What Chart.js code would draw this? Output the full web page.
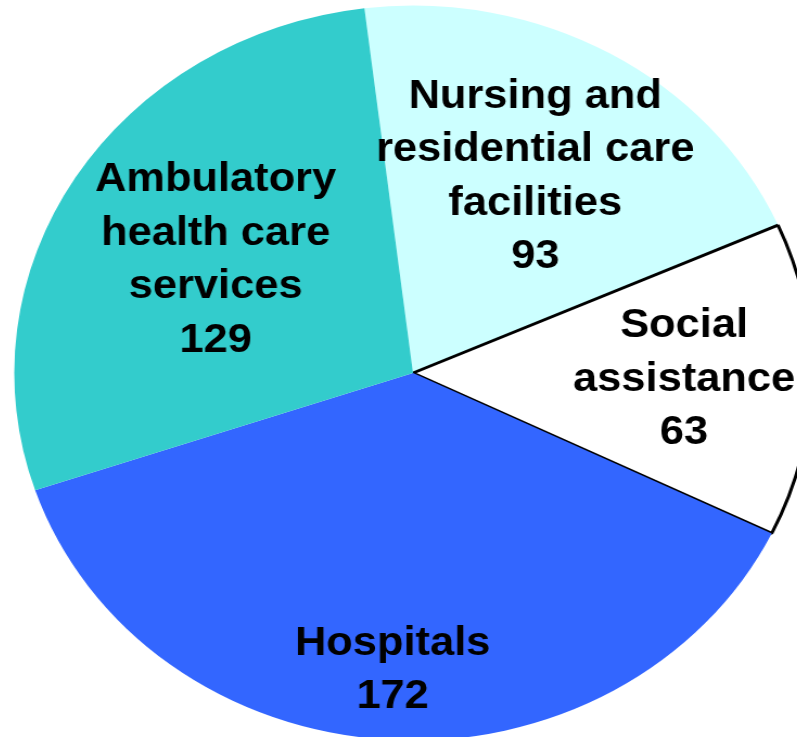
<!DOCTYPE html>
<html>
<head>
<meta charset="utf-8">
<script src="https://cdn.jsdelivr.net/npm/chart.js@4"></script>
<style>
  html, body { margin: 0; padding: 0; background: #fff; overflow: hidden; width: 797px; height: 737px; }
  #wrap { position: absolute; left: 44px; top: 4px; width: 738px; height: 738px; transform: scaleX(1.085); transform-origin: 50% 50%; }
  canvas { display: block; }
</style>
</head>
<body>
<div id="wrap"><canvas id="pie" width="738" height="738" style="width:738px;height:738px"></canvas></div>
<script>
// slices, clockwise from the top
const categories = ['Nursing and residential care facilities', 'Social assistance', 'Hospitals', 'Ambulatory health care services'];
const values = [93, 63, 172, 129];
const labelLines = [
  ['Nursing and', 'residential care', 'facilities'],
  ['Social', 'assistance'],
  ['Hospitals'],
  ['Ambulatory', 'health care', 'services']
];
const sliceColors = ['#CCFFFF', '#FFFFFF', '#3366FF', '#33CCCC'];

// how far out along the radius each label block sits
const labelRadius = [0.62, 0.68, 0.805, 0.585];

const sliceLabels = {
  id: 'sliceLabels',
  afterDatasetsDraw(chart) {
    const ctx = chart.ctx;
    const arcs = chart.getDatasetMeta(0).data;
    ctx.save();
    ctx.font = 'bold 40px "Liberation Sans", Arial, sans-serif';
    ctx.fillStyle = '#000';
    ctx.textAlign = 'center';
    ctx.textBaseline = 'middle';
    const lh = 53.5;
    arcs.forEach((arc, i) => {
      const p = arc.getProps(['x', 'y', 'startAngle', 'endAngle', 'outerRadius'], true);
      const mid = (p.startAngle + p.endAngle) / 2;
      const r = p.outerRadius * labelRadius[i];
      const cx = p.x + Math.cos(mid) * r;
      const cy = p.y + Math.sin(mid) * r + 2;
      const lines = labelLines[i].concat([String(values[i])]);
      const y0 = cy - (lines.length - 1) * lh / 2;
      lines.forEach((t, k) => ctx.fillText(t, cx, y0 + k * lh));
    });
    ctx.restore();
  }
};

new Chart(document.getElementById('pie'), {
  type: 'pie',
  data: {
    labels: categories,
    datasets: [{
      data: values,
      backgroundColor: sliceColors,
      borderColor: '#000000',
      borderWidth: [0, 3, 0, 0]
    }]
  },
  options: {
    responsive: false,
    animation: false,
    rotation: -7,
    layout: { padding: 0 },
    plugins: {
      legend: { display: false },
      tooltip: { enabled: false }
    }
  },
  plugins: [sliceLabels]
});
</script>
</body>
</html>
